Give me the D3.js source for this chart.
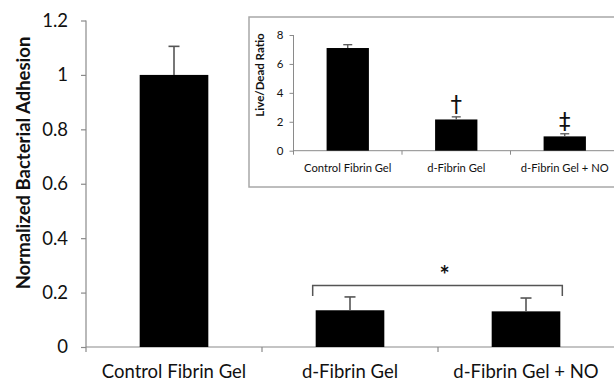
<!DOCTYPE html>
<html>
<head>
<meta charset="utf-8">
<script src="https://cdn.jsdelivr.net/npm/d3@7/dist/d3.min.js"></script>
<style>
  html, body { margin: 0; padding: 0; background: #fff; }
  svg { display: block; }
  text { font-family: Lato, "Open Sans", sans-serif; fill: #111; }
</style>
</head>
<body>
<svg id="chart" width="614" height="383"></svg>
<script>
// Main panel: bacterial adhesion normalized to the control gel
const categories = ["Control Fibrin Gel", "d-Fibrin Gel", "d-Fibrin Gel + NO"];
const adhesion = [1.0, 0.135, 0.131];
const adhesionErr = [0.105, 0.049, 0.049];
const yTicks = [0, 0.2, 0.4, 0.6, 0.8, 1, 1.2];

// Inset: live/dead ratio of adhered bacteria
const liveDead = [7.1, 2.16, 0.99];
const liveDeadErr = [0.23, 0.18, 0.18];
const liveDeadMarks = ["", "\u2020", "\u2021"];
const insetTicks = [0, 2, 4, 6, 8];

const svg = d3.select("#chart");
const axisGrey = "#8a8a8a";
const errGrey = "#555";

// ---------- main chart ----------
const x = d3.scaleBand().domain(categories).range([86, 614]).padding(0);
const y = d3.scaleLinear().domain([0, 1.2]).range([347, 20.5]);
const barFrac = 0.39;
const bw = x.bandwidth() * barFrac;
const bx = c => x(c) + (x.bandwidth() - bw) / 2;

// y axis
const yAxis = svg.append("g").attr("transform", "translate(86,0)")
  .call(d3.axisLeft(y).tickValues(yTicks).tickSize(5).tickSizeOuter(0).tickFormat(d3.format("~g")));
yAxis.select(".domain").attr("stroke", axisGrey).attr("stroke-width", 1.2);
yAxis.selectAll(".tick line").attr("stroke", axisGrey).attr("stroke-width", 1.2);
yAxis.selectAll(".tick text").attr("x", -18).style("font-size", "18.5px").style("font-family", "Lato, sans-serif").attr("fill", "#111");
yAxis.select(".domain").attr("d", `M0,${y(1.2)}V${y(0) + 5}`);

// x axis: line with tick marks at category boundaries
const xAxisG = svg.append("g");
xAxisG.append("line")
  .attr("x1", x.range()[0]).attr("x2", x.range()[1])
  .attr("y1", y(0)).attr("y2", y(0))
  .attr("stroke", axisGrey).attr("stroke-width", 1.2);
const bounds = categories.map(c => x(c)).concat([x.range()[1]]);
xAxisG.selectAll("line.b").data(bounds.slice(1, 3)).enter().append("line")
  .attr("x1", d => d).attr("x2", d => d)
  .attr("y1", y(0)).attr("y2", y(0) + 5)
  .attr("stroke", axisGrey).attr("stroke-width", 1.2);
xAxisG.selectAll("text").data(categories).enter().append("text")
  .attr("x", d => x(d) + x.bandwidth() / 2)
  .attr("y", 378)
  .attr("text-anchor", "middle")
  .style("font-size", "18.5px")
  .text(d => d);

// bars
svg.append("g").selectAll("rect").data(categories).enter().append("rect")
  .attr("x", d => bx(d))
  .attr("width", bw)
  .attr("y", (d, i) => y(adhesion[i]))
  .attr("height", (d, i) => y(0) - y(adhesion[i]))
  .attr("fill", "#000");

// error bars (upper only)
const eg = svg.append("g").attr("stroke", errGrey).attr("stroke-width", 1.6);
categories.forEach((c, i) => {
  const cx = x(c) + x.bandwidth() / 2;
  eg.append("line").attr("x1", cx).attr("x2", cx)
    .attr("y1", y(adhesion[i])).attr("y2", y(adhesion[i] + adhesionErr[i]));
  eg.append("line").attr("x1", cx - 5.5).attr("x2", cx + 5.5)
    .attr("y1", y(adhesion[i] + adhesionErr[i])).attr("y2", y(adhesion[i] + adhesionErr[i]));
});

// significance bracket between the two d-Fibrin groups
const bl = bx(categories[1]) - 3;
const br = bx(categories[2]) + bw + 2;
const bTop = y(0.226), bBot = y(0.187);
svg.append("path")
  .attr("d", `M${bl},${bBot}V${bTop}H${br}V${bBot}`)
  .attr("fill", "none").attr("stroke", errGrey).attr("stroke-width", 1.5);
svg.append("text")
  .attr("x", (bl + br) / 2 + 7).attr("y", 284)
  .attr("text-anchor", "middle")
  .style("font-size", "24px").style("font-weight", "bold")
  .text("*");

// y axis title
svg.append("text")
  .attr("transform", "translate(30,163) rotate(-90)")
  .attr("text-anchor", "middle")
  .style("font-size", "18.5px").style("font-weight", "bold")
  .text("Normalized Bacterial Adhesion");

// ---------- inset ----------
const inset = svg.append("g");
inset.append("rect")
  .attr("x", 249).attr("y", 17).attr("width", 380).attr("height", 170)
  .attr("fill", "#fff").attr("stroke", "#a8a8a8").attr("stroke-width", 1.5);

const xi = d3.scaleBand().domain(categories).range([293.5, 619]).padding(0);
const yi = d3.scaleLinear().domain([0, 8]).range([150.7, 35]);
const bwi = xi.bandwidth() * barFrac;
const bxi = c => xi(c) + (xi.bandwidth() - bwi) / 2;

const yiAxis = inset.append("g").attr("transform", "translate(293.5,0)")
  .call(d3.axisLeft(yi).tickValues(insetTicks).tickSize(4).tickSizeOuter(0));
yiAxis.select(".domain").attr("stroke", axisGrey).attr("d", `M0,${yi(8)}V${yi(0) + 4}`);
yiAxis.selectAll(".tick line").attr("stroke", axisGrey);
yiAxis.selectAll(".tick text").attr("x", -10).style("font-size", "11.5px").style("font-family", "Lato, sans-serif").attr("fill", "#111");

inset.append("line")
  .attr("x1", xi.range()[0]).attr("x2", 614)
  .attr("y1", yi(0)).attr("y2", yi(0))
  .attr("stroke", axisGrey);
inset.selectAll("line.b").data(categories.slice(1)).enter().append("line")
  .attr("x1", d => xi(d)).attr("x2", d => xi(d))
  .attr("y1", yi(0)).attr("y2", yi(0) + 4)
  .attr("stroke", axisGrey);
inset.selectAll("text.cat").data(categories).enter().append("text")
  .attr("x", d => xi(d) + xi.bandwidth() / 2)
  .attr("y", 172)
  .attr("text-anchor", "middle")
  .style("font-size", "11.2px")
  .text(d => d);

inset.append("g").selectAll("rect").data(categories).enter().append("rect")
  .attr("x", d => bxi(d))
  .attr("width", bwi)
  .attr("y", (d, i) => yi(liveDead[i]))
  .attr("height", (d, i) => yi(0) - yi(liveDead[i]))
  .attr("fill", "#000");

const egi = inset.append("g").attr("stroke", errGrey).attr("stroke-width", 1.3);
categories.forEach((c, i) => {
  const cx = xi(c) + xi.bandwidth() / 2;
  const top = yi(liveDead[i] + liveDeadErr[i]);
  egi.append("line").attr("x1", cx).attr("x2", cx).attr("y1", yi(liveDead[i])).attr("y2", top);
  egi.append("line").attr("x1", cx - 4.5).attr("x2", cx + 4.5).attr("y1", top).attr("y2", top);
  if (liveDeadMarks[i]) {
    inset.append("text")
      .attr("x", cx).attr("y", top - 5)
      .attr("text-anchor", "middle")
      .style("font-size", "23px")
      .style("font-family", "'DejaVu Sans', sans-serif")
      .text(liveDeadMarks[i]);
  }
});

inset.append("text")
  .attr("transform", "translate(264,75) rotate(-90)")
  .attr("text-anchor", "middle")
  .style("font-size", "11.5px").style("font-weight", "bold")
  .text("Live/Dead Ratio");
</script>
</body>
</html>
